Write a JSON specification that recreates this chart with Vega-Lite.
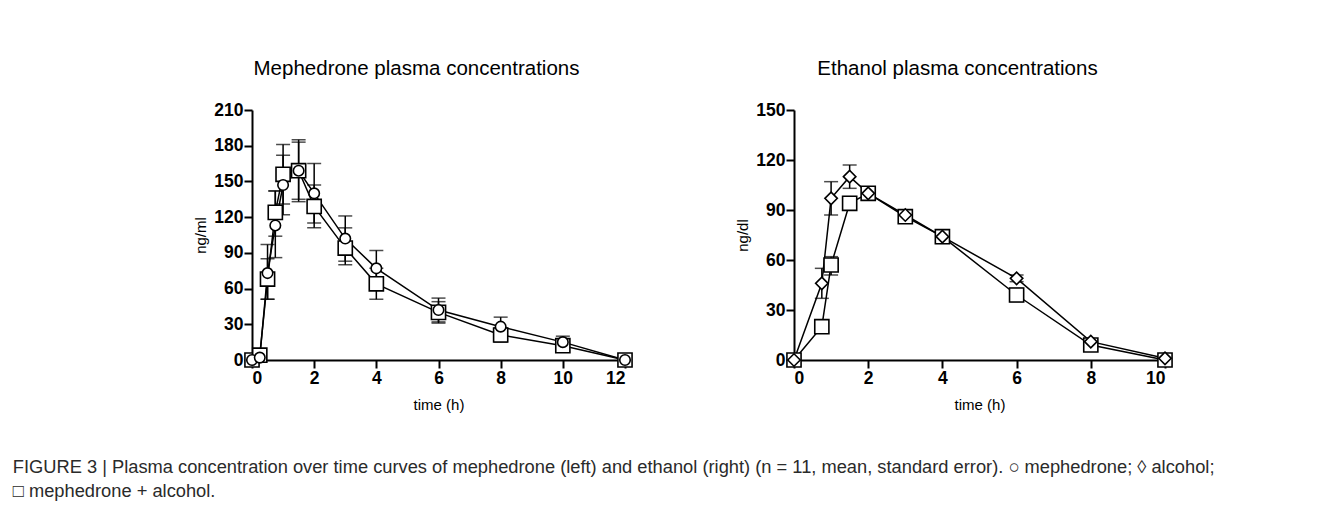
{
  "$schema": "https://vega.github.io/schema/vega-lite/v6.json",
  "padding": {"left": 12, "top": 58, "right": 5, "bottom": 5},
  "background": "white",
  "datasets": {
    "meph": [
      {"t": 0, "v": 0, "lo": 0, "hi": 0, "grp": "mephedrone + alcohol"},
      {"t": 0.25, "v": 4, "lo": 2, "hi": 6, "grp": "mephedrone + alcohol"},
      {"t": 0.5, "v": 68, "lo": 51, "hi": 85, "grp": "mephedrone + alcohol"},
      {"t": 0.75, "v": 124, "lo": 104, "hi": 142, "grp": "mephedrone + alcohol"},
      {"t": 1, "v": 156, "lo": 131, "hi": 181, "grp": "mephedrone + alcohol"},
      {"t": 1.5, "v": 159, "lo": 135, "hi": 183, "grp": "mephedrone + alcohol"},
      {"t": 2, "v": 129, "lo": 111, "hi": 147, "grp": "mephedrone + alcohol"},
      {"t": 3, "v": 94, "lo": 80, "hi": 111, "grp": "mephedrone + alcohol"},
      {"t": 4, "v": 64, "lo": 51, "hi": 77, "grp": "mephedrone + alcohol"},
      {"t": 6, "v": 40, "lo": 31, "hi": 49, "grp": "mephedrone + alcohol"},
      {"t": 8, "v": 21, "lo": 15, "hi": 27, "grp": "mephedrone + alcohol"},
      {"t": 10, "v": 12, "lo": 9, "hi": 15, "grp": "mephedrone + alcohol"},
      {"t": 12, "v": 0, "lo": 0, "hi": 0, "grp": "mephedrone + alcohol"},
      {"t": 0, "v": 0, "lo": 0, "hi": 0, "grp": "mephedrone"},
      {"t": 0.25, "v": 2, "lo": 1, "hi": 3, "grp": "mephedrone"},
      {"t": 0.5, "v": 73, "lo": 51, "hi": 97, "grp": "mephedrone"},
      {"t": 0.75, "v": 113, "lo": 86, "hi": 142, "grp": "mephedrone"},
      {"t": 1, "v": 147, "lo": 122, "hi": 172, "grp": "mephedrone"},
      {"t": 1.5, "v": 159, "lo": 133, "hi": 185, "grp": "mephedrone"},
      {"t": 2, "v": 140, "lo": 115, "hi": 165, "grp": "mephedrone"},
      {"t": 3, "v": 102, "lo": 83, "hi": 121, "grp": "mephedrone"},
      {"t": 4, "v": 77, "lo": 62, "hi": 92, "grp": "mephedrone"},
      {"t": 6, "v": 42, "lo": 32, "hi": 52, "grp": "mephedrone"},
      {"t": 8, "v": 28, "lo": 20, "hi": 36, "grp": "mephedrone"},
      {"t": 10, "v": 15, "lo": 10, "hi": 20, "grp": "mephedrone"},
      {"t": 12, "v": 0, "lo": 0, "hi": 0, "grp": "mephedrone"}
    ],
    "eth": [
      {"t": 0, "v": 0, "lo": 0, "hi": 0, "grp": "mephedrone + alcohol"},
      {"t": 0.75, "v": 20, "lo": 18, "hi": 22, "grp": "mephedrone + alcohol"},
      {"t": 1, "v": 57, "lo": 51, "hi": 62, "grp": "mephedrone + alcohol"},
      {"t": 1.5, "v": 94, "lo": 90, "hi": 98, "grp": "mephedrone + alcohol"},
      {"t": 2, "v": 100, "lo": 98, "hi": 103, "grp": "mephedrone + alcohol"},
      {"t": 3, "v": 86, "lo": 83, "hi": 89, "grp": "mephedrone + alcohol"},
      {"t": 4, "v": 74, "lo": 70, "hi": 78, "grp": "mephedrone + alcohol"},
      {"t": 6, "v": 39, "lo": 35, "hi": 43, "grp": "mephedrone + alcohol"},
      {"t": 8, "v": 9, "lo": 8, "hi": 10, "grp": "mephedrone + alcohol"},
      {"t": 10, "v": 0, "lo": 0, "hi": 0, "grp": "mephedrone + alcohol"},
      {"t": 0, "v": 0, "lo": 0, "hi": 0, "grp": "alcohol"},
      {"t": 0.75, "v": 46, "lo": 37, "hi": 55, "grp": "alcohol"},
      {"t": 1, "v": 97, "lo": 87, "hi": 107, "grp": "alcohol"},
      {"t": 1.5, "v": 110, "lo": 103, "hi": 117, "grp": "alcohol"},
      {"t": 2, "v": 100, "lo": 98, "hi": 102, "grp": "alcohol"},
      {"t": 3, "v": 87, "lo": 84, "hi": 90, "grp": "alcohol"},
      {"t": 4, "v": 74, "lo": 71, "hi": 77, "grp": "alcohol"},
      {"t": 6, "v": 49, "lo": 47, "hi": 51, "grp": "alcohol"},
      {"t": 8, "v": 11, "lo": 10, "hi": 12, "grp": "alcohol"},
      {"t": 10, "v": 1, "lo": 0, "hi": 2, "grp": "alcohol"}
    ]
  },
  "title": {
    "text": ["FIGURE 3 | Plasma concentration over time curves of mephedrone (left) and ethanol (right) (n = 11, mean, standard error). ○ mephedrone; ◊ alcohol;", "□ mephedrone + alcohol."],
    "orient": "bottom",
    "anchor": "start",
    "frame": "bounds",
    "dx": -181,
    "offset": 46,
    "fontSize": 18.3,
    "fontWeight": "normal",
    "color": "#2a2a2a",
    "lineHeight": 24
  },
  "spacing": 99,
  "hconcat": [
    {
      "width": 373,
      "height": 250,
      "title": {"text": "Mephedrone plasma concentrations", "dx": -22, "offset": 22},
      "data": {"name": "meph"},
      "encoding": {
        "x": {"field": "t", "type": "quantitative", "scale": {"domain": [0, 12], "nice": false}, "axis": {"values": [0, 2, 4, 6, 8, 10, 12], "title": "time (h)", "titlePadding": 11}}
      },
      "layer": [
        {
          "mark": {"type": "errorbar", "ticks": {"size": 14, "thickness": 1.5, "color": "black"}, "rule": {"strokeWidth": 1.5, "color": "black"}},
          "encoding": {
            "y": {"field": "lo", "type": "quantitative", "scale": {"domain": [0, 210], "nice": false}, "axis": {"values": [0, 30, 60, 90, 120, 150, 180, 210], "title": "ng/ml"}},
            "y2": {"field": "hi"}
          }
        },
        {
          "mark": {"type": "line", "color": "black", "strokeWidth": 1.5},
          "encoding": {
            "y": {"field": "v", "type": "quantitative", "scale": {"domain": [0, 210], "nice": false}, "axis": {"values": [0, 30, 60, 90, 120, 150, 180, 210], "title": "ng/ml"}},
            "detail": {"field": "grp"},
            "order": {"field": "t"}
          }
        },
        {
          "mark": {"type": "point", "filled": false, "fill": "white", "fillOpacity": 1, "stroke": "black", "strokeWidth": 1.6, "opacity": 1},
          "encoding": {
            "y": {"field": "v", "type": "quantitative", "scale": {"domain": [0, 210], "nice": false}, "axis": {"values": [0, 30, 60, 90, 120, 150, 180, 210], "title": "ng/ml"}},
            "shape": {"field": "grp", "type": "nominal", "scale": {"domain": ["mephedrone", "alcohol", "mephedrone + alcohol"], "range": ["circle", "diamond", "square"]}, "legend": null},
            "size": {"field": "grp", "type": "nominal", "scale": {"domain": ["mephedrone", "alcohol", "mephedrone + alcohol"], "range": [110, 200, 72]}, "legend": null}
          }
        }
      ]
    },
    {
      "width": 371,
      "height": 250,
      "title": {"text": "Ethanol plasma concentrations", "dx": -22, "offset": 22},
      "data": {"name": "eth"},
      "encoding": {
        "x": {"field": "t", "type": "quantitative", "scale": {"domain": [0, 10], "nice": false}, "axis": {"values": [0, 2, 4, 6, 8, 10], "title": "time (h)", "titlePadding": 11}}
      },
      "layer": [
        {
          "mark": {"type": "errorbar", "ticks": {"size": 14, "thickness": 1.5, "color": "black"}, "rule": {"strokeWidth": 1.5, "color": "black"}},
          "encoding": {
            "y": {"field": "lo", "type": "quantitative", "scale": {"domain": [0, 150], "nice": false}, "axis": {"values": [0, 30, 60, 90, 120, 150], "title": "ng/dl"}},
            "y2": {"field": "hi"}
          }
        },
        {
          "mark": {"type": "line", "color": "black", "strokeWidth": 1.5},
          "encoding": {
            "y": {"field": "v", "type": "quantitative", "scale": {"domain": [0, 150], "nice": false}, "axis": {"values": [0, 30, 60, 90, 120, 150], "title": "ng/dl"}},
            "detail": {"field": "grp"},
            "order": {"field": "t"}
          }
        },
        {
          "mark": {"type": "point", "filled": false, "fill": "white", "fillOpacity": 1, "stroke": "black", "strokeWidth": 1.6, "opacity": 1},
          "encoding": {
            "y": {"field": "v", "type": "quantitative", "scale": {"domain": [0, 150], "nice": false}, "axis": {"values": [0, 30, 60, 90, 120, 150], "title": "ng/dl"}},
            "shape": {"field": "grp", "type": "nominal", "scale": {"domain": ["mephedrone", "alcohol", "mephedrone + alcohol"], "range": ["circle", "diamond", "square"]}, "legend": null},
            "size": {"field": "grp", "type": "nominal", "scale": {"domain": ["mephedrone", "alcohol", "mephedrone + alcohol"], "range": [110, 200, 72]}, "legend": null}
          }
        }
      ]
    }
  ],
  "config": {
    "view": {"stroke": null},
    "font": "Liberation Sans",
    "axis": {
      "grid": false,
      "domainColor": "black",
      "domainWidth": 2,
      "tickColor": "black",
      "tickWidth": 2,
      "tickSize": 8,
      "labelColor": "black",
      "labelFont": "Liberation Sans",
      "labelFontSize": 17.5,
      "labelFontWeight": "bold",
      "labelPadding": 1,
      "titleFont": "Liberation Sans",
      "titleFontSize": 15,
      "titleFontWeight": "normal",
      "titleColor": "black",
      "titlePadding": 5
    },
    "title": {"font": "Liberation Sans", "fontSize": 20.5, "fontWeight": "normal", "color": "black"}
  }
}
